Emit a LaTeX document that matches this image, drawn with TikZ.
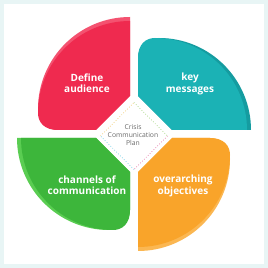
\documentclass[tikz,border=0pt]{standalone}
\usepackage{fontspec}
\setmainfont{Open Sans}
\definecolor{frame}{HTML}{E8F5F5}
\definecolor{redmain}{HTML}{EF2A4F}
\definecolor{redband}{HTML}{F45270}
\definecolor{tealmain}{HTML}{1BB2B5}
\definecolor{tealband}{HTML}{159CA0}
\definecolor{greenmain}{HTML}{3DB63B}
\definecolor{greenband}{HTML}{5ACD52}
\definecolor{orangemain}{HTML}{F9A42A}
\definecolor{orangeband}{HTML}{FBB752}
\definecolor{centertext}{HTML}{6A6A6A}
\definecolor{dtl}{HTML}{EDBE4C}
\definecolor{dtr}{HTML}{8CCB5E}
\definecolor{dbl}{HTML}{4FC3E0}
\definecolor{dbr}{HTML}{E0508F}
\newcommand\petalfull{(-4,38) -- (-38,4) -- (-76,4) .. controls (-89,4) and (-96,13) .. (-96,25) arc[start angle=180,end angle=90,radius=92] -- cycle}
\newcommand\petalbody{(-4,38) -- (-38,4) -- (-76,4) .. controls (-89,4) and (-96,11) .. (-96,21) arc[start angle=180,end angle=90,radius=92] -- cycle}
\tikzset{
  petaltext/.style={text=white, font=\fontsize{10}{11.2}\selectfont\bfseries, align=center},
  dia/.style={line width=0.7pt, dotted},
}
\begin{document}
\begin{tikzpicture}[x=1pt,y=1pt]
\useasboundingbox (0,0) rectangle (268,268);
\fill[frame] (0,0) rectangle (268,268);
\fill[white] (4,4) rectangle (264,264);
\begin{scope}[shift={(134,134)}]
  % red (top-left)
  \fill[redband] \petalfull;
  \fill[redmain] \petalbody;
  % teal (top-right)
  \begin{scope}[rotate=-90]
    \fill[tealband] \petalfull;
    \fill[tealmain] \petalbody;
  \end{scope}
  % orange (bottom-right)
  \begin{scope}[rotate=180]
    \fill[orangeband] \petalfull;
    \fill[orangemain] \petalbody;
  \end{scope}
  % green (bottom-left)
  \begin{scope}[rotate=90]
    \fill[greenband] \petalfull;
    \fill[greenmain] \petalbody;
  \end{scope}
  % diamond
  \coordinate (dt) at (0,31.5);
  \coordinate (dr) at (33.5,-2);
  \coordinate (db) at (0,-35.5);
  \coordinate (dl) at (-33.5,-2);
  \draw[dia, dtl] (dl) -- (dt);
  \draw[dia, dtr] (dt) -- (dr);
  \draw[dia, dbr] (dr) -- (db);
  \draw[dia, dbl] (db) -- (dl);
  \node[text=centertext, font=\fontsize{6.8}{8}\selectfont, align=center] (center) at (-1,-1) {Crisis\\Communication\\Plan};
  \node[petaltext] (audience) at (-47,51) {Define\\audience};
  \node[petaltext] (messages) at (56,50) {key\\messages};
  \node[petaltext] (channels) at (-47,-51) {channels of\\communication};
  \node[petaltext] (objectives) at (49,-52) {overarching\\objectives};
\end{scope}
\end{tikzpicture}
\end{document}
